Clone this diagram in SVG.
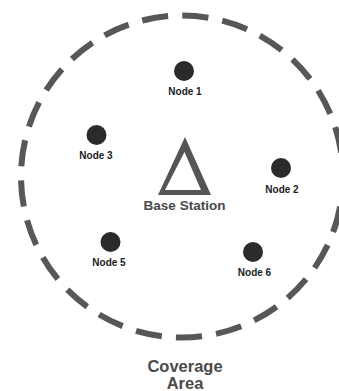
<svg xmlns="http://www.w3.org/2000/svg" width="339" height="391" viewBox="0 0 339 391">
<style>
.node{fill:#2b2b2b}
.nl{font-family:"Liberation Sans",Arial,sans-serif;font-weight:bold;font-size:10px;fill:#222;text-anchor:middle}
.big{font-family:"Liberation Sans",Arial,sans-serif;font-weight:bold;fill:#4a4a4a;text-anchor:middle}
</style>
<rect width="339" height="391" fill="#fff"/>
<g id="coverage">
<circle cx="182" cy="176.5" r="161" fill="none" stroke="#575757" stroke-width="6" stroke-dasharray="26.3 14.16" stroke-dashoffset="10.12"/>
</g>
<g id="connectors"></g>
<g id="base-station">
<path d="M158,195 L185,137 L211,195 Z M165,190 L201,190 L184.5,152 Z" fill="#555" fill-rule="evenodd"/>
<text class="big" x="184.5" y="210" font-size="13.5">Base Station</text>
</g>
<g id="node1"><circle class="node" cx="184" cy="71" r="10"/><text class="nl" x="185" y="94.5">Node 1</text></g>
<g id="node2"><circle class="node" cx="281" cy="168" r="10"/><text class="nl" x="282" y="192.5">Node 2</text></g>
<g id="node3"><circle class="node" cx="96.5" cy="135" r="10"/><text class="nl" x="96" y="159">Node 3</text></g>
<g id="node5"><circle class="node" cx="110.5" cy="242" r="10"/><text class="nl" x="109" y="266">Node 5</text></g>
<g id="node6"><circle class="node" cx="253" cy="252" r="10"/><text class="nl" x="254.5" y="276">Node 6</text></g>
<g id="label">
<text class="big" x="185" y="372" font-size="16.5">Coverage</text>
<text class="big" x="185" y="388.5" font-size="16.5">Area</text>
</g>
</svg>
